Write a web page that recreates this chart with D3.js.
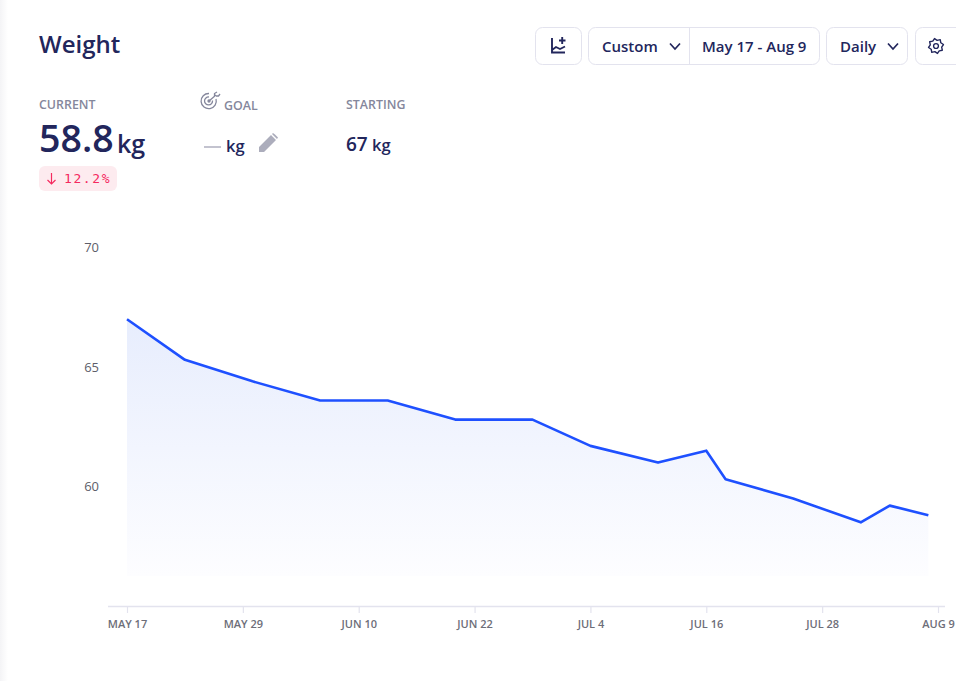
<!DOCTYPE html>
<html>
<head>
<meta charset="utf-8">
<script src="https://cdn.jsdelivr.net/npm/d3@7"></script>
<style>
html, body { margin: 0; padding: 0; background: #fff; overflow: hidden; }
svg { display: block; }
text { font-family: "Open Sans", sans-serif; }
</style>
</head>
<body>
<svg width="956" height="681"></svg>
<script>
var dates = ["2021-05-17", "2021-05-23", "2021-05-30", "2021-06-06", "2021-06-13", "2021-06-20", "2021-06-28",
    "2021-07-04", "2021-07-11", "2021-07-16", "2021-07-18", "2021-07-25", "2021-08-01", "2021-08-04", "2021-08-08"];
var weights = [67, 65.3, 64.4, 63.6, 63.6, 62.8, 62.8, 61.7, 61, 61.5, 60.3, 59.5, 58.5, 59.2, 58.8];
var yTicks = [60, 65, 70];
var xTickDates = ["2021-05-17", "2021-05-29", "2021-06-10", "2021-06-22", "2021-07-04", "2021-07-16", "2021-07-28", "2021-08-09"];
var xTickLabels = ["MAY 17", "MAY 29", "JUN 10", "JUN 22", "JUL 4", "JUL 16", "JUL 28", "AUG 9"];

var navy = "#22265c", grey = "#85879c", border = "#e3e3ee";
var parse = d3.utcParse("%Y-%m-%d");
var svg = d3.select("svg");

var x = d3.scaleUtc()
    .domain([parse(xTickDates[0]), parse(xTickDates[7])])
    .range([127, 938]);
var y = d3.scaleLinear().domain([60, 70]).range([486.5, 247.5]);
var areaBottom = 576, axisY = 606;

var points = dates.map(function (d, i) { return { date: parse(d), value: weights[i] }; });

// left page shadow
var defs = svg.append("defs");
var shadow = defs.append("linearGradient").attr("id", "pageShadow");
shadow.append("stop").attr("offset", 0).attr("stop-color", "#f4f4f6");
shadow.append("stop").attr("offset", 1).attr("stop-color", "#ffffff");
svg.append("rect").attr("width", 8).attr("height", 681).attr("fill", "url(#pageShadow)");

// area + line
var grad = defs.append("linearGradient").attr("id", "fade")
    .attr("gradientUnits", "userSpaceOnUse")
    .attr("x1", 0).attr("x2", 0).attr("y1", y(67)).attr("y2", areaBottom);
grad.append("stop").attr("offset", 0).attr("stop-color", "#e7edfd");
grad.append("stop").attr("offset", 1).attr("stop-color", "#fdfdff");

svg.append("path").datum(points)
    .attr("fill", "url(#fade)")
    .attr("d", d3.area()
        .x(function (d) { return x(d.date); })
        .y0(areaBottom)
        .y1(function (d) { return y(d.value); }));

svg.append("path").datum(points)
    .attr("fill", "none")
    .attr("stroke", "#1e50ff")
    .attr("stroke-width", 2.6)
    .attr("stroke-linejoin", "round")
    .attr("d", d3.line()
        .x(function (d) { return x(d.date); })
        .y(function (d) { return y(d.value); }));

// axes
var xAxis = svg.append("g")
    .attr("transform", "translate(0," + axisY + ")")
    .call(d3.axisBottom(x)
        .tickValues(xTickDates.map(parse))
        .tickFormat(function (d, i) { return xTickLabels[i]; })
        .tickSize(7).tickSizeOuter(0).tickPadding(7));
xAxis.select(".domain").attr("d", "M108,0.5H945").attr("stroke", border).attr("stroke-width", 1.5);
xAxis.selectAll("line").attr("stroke", border).attr("stroke-width", 1.2);
xAxis.selectAll("text").attr("fill", "#6d6e79").attr("font-size", 11).attr("font-weight", 600)
    .attr("font-family", "Open Sans");

var yAxis = svg.append("g")
    .attr("transform", "translate(99,0)")
    .call(d3.axisLeft(y).tickValues(yTicks).tickSize(0).tickPadding(0));
yAxis.select(".domain").remove();
yAxis.selectAll("text").attr("fill", "#5d5e6a").attr("font-size", 13).attr("font-weight", 400)
    .attr("font-family", "Open Sans");

// header text
function label(tx, ty, str, size, weight, fill) {
    return svg.append("text").attr("x", tx).attr("y", ty).text(str)
        .attr("font-size", size).attr("font-weight", weight).attr("fill", fill);
}
label(39, 53, "Weight", 24, 600, navy);
label(39, 109, "CURRENT", 12.4, 600, grey);
label(224, 110, "GOAL", 12.4, 600, grey);
label(346, 109, "STARTING", 12.4, 600, grey);
label(39, 152, "58.8", 37.5, 600, navy);
label(117, 153, "kg", 25, 600, navy);
label(226, 152, "kg", 16.5, 600, navy);
label(346, 151, "67", 19, 600, navy);
label(372, 151, "kg", 16.5, 600, navy);
svg.append("line").attr("x1", 204).attr("x2", 221).attr("y1", 147).attr("y2", 147)
    .attr("stroke", "#a9aabb").attr("stroke-width", 1.4);

// change badge
svg.append("rect").attr("x", 39).attr("y", 166).attr("width", 78).attr("height", 25).attr("rx", 6).attr("fill", "#fdebef");
svg.append("path").attr("d", "M51.5,173V184M47.5,180L51.5,184L55.5,180")
    .attr("fill", "none").attr("stroke", "#f5295f").attr("stroke-width", 1.2);
label(64, 183, "12.2%", 13, 400, "#f5295f").attr("letter-spacing", 1.6).style("font-family", "DejaVu Sans Mono");

// target icon
var icon = svg.append("g").attr("fill", "none").attr("stroke", grey).attr("stroke-width", 1.3);
icon.append("path").attr("d", "M216,99A7.6,7.6 0 1 1 209,93.5");
icon.append("path").attr("d", "M212.5,100.5A4,4 0 1 1 209,97");
icon.append("circle").attr("cx", 209).attr("cy", 101).attr("r", 1).attr("fill", grey);
icon.append("path").attr("d", "M209,101L216,95M214.5,96V93.5L217,92M216,96H218.5L220,94");

// pencil
svg.append("path").attr("d", "M259,152V147L271,135L276,140L264,152Z M273,133L275,134.5L278,137.5L277,139L272,134Z")
    .attr("fill", "#acadbc");

// toolbar
function box(bx, bw, rx) {
    svg.append("rect").attr("x", bx + 0.5).attr("y", 27.5).attr("width", bw).attr("height", 37).attr("rx", rx || 7)
        .attr("fill", "#fff").attr("stroke", border).attr("stroke-width", 1);
}
function chevron(cx) {
    svg.append("path").attr("d", "M" + (cx - 5) + ",43.5L" + cx + ",49L" + (cx + 5) + ",43.5")
        .attr("fill", "none").attr("stroke", navy).attr("stroke-width", 1.7);
}
box(535, 46);
box(588, 231);
svg.append("line").attr("x1", 689.5).attr("x2", 689.5).attr("y1", 28).attr("y2", 64).attr("stroke", border);
box(826, 81);
box(915, 50);
label(602, 52, "Custom", 15, 600, navy);
chevron(675);
label(702, 52, "May 17 - Aug 9", 15, 600, navy);
label(840, 52, "Daily", 15, 600, navy);
chevron(893);

// add-chart icon
svg.append("path").attr("d", "M552,38V52.5H565M552,50L556,47L560,49L565,46.5M559,40.5H565.5M562.2,37V44")
    .attr("fill", "none").attr("stroke", navy).attr("stroke-width", 1.9);

// gear icon
var gear = svg.append("g").attr("transform", "translate(936,46)")
    .attr("fill", "none").attr("stroke", navy).attr("stroke-width", 1.4);
gear.append("circle").attr("r", 2.4);
var gearPts = d3.range(16).map(function (i) {
    var r = i % 2 ? 7.6 : 5.8;
    var a = (i + 0.5) * Math.PI / 8;
    return [r * Math.cos(a), r * Math.sin(a)];
});
gear.append("path").attr("d", d3.line().curve(d3.curveLinearClosed)(gearPts)).attr("stroke-linejoin", "round");
</script>
</body>
</html>
